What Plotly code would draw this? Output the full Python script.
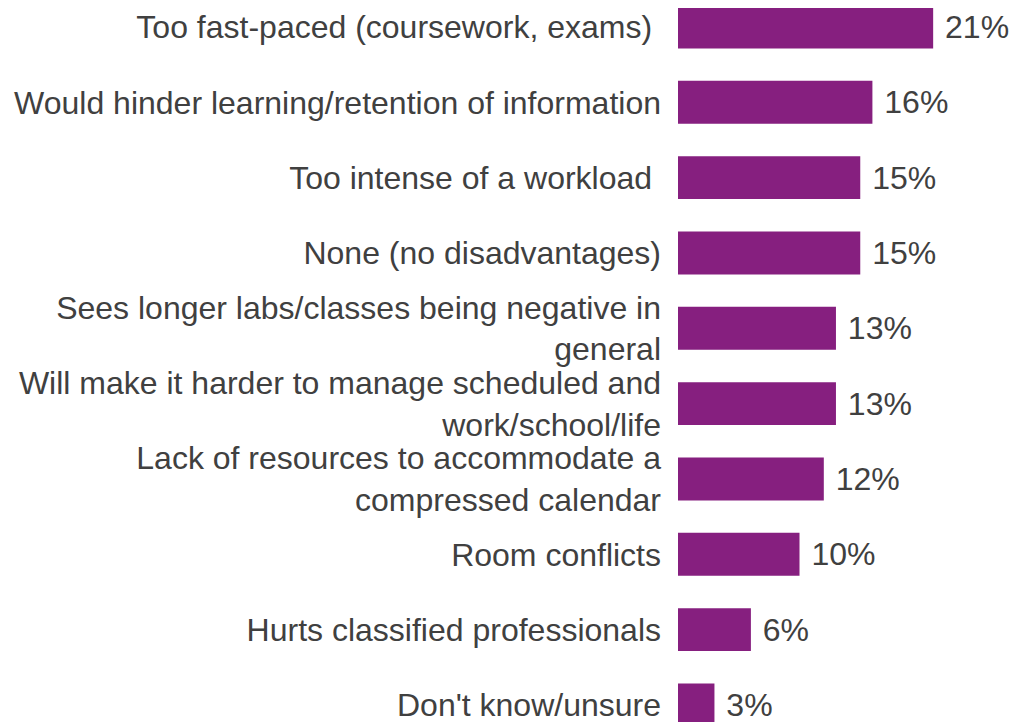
import plotly.graph_objects as go

# Categories, top to bottom
categories = [
    "Too fast-paced (coursework, exams)\u00a0",
    "Would hinder learning/retention of information",
    "Too intense of a workload\u00a0",
    "None (no disadvantages)",
    "Sees longer labs/classes being negative in<br>general",
    "Will make it harder to manage scheduled and<br>work/school/life",
    "Lack of resources to accommodate a<br>compressed calendar",
    "Room conflicts",
    "Hurts classified professionals",
    "Don't know/unsure",
]
percentages = [21, 16, 15, 15, 13, 13, 12, 10, 6, 3]
value_labels = [f"{v}%" for v in percentages]

BAR_COLOR = "#861f7f"
TEXT_COLOR = "#404040"
FONT = "Arial, Liberation Sans, sans-serif"

fig = go.Figure()

fig.add_trace(
    go.Bar(
        x=percentages,
        y=categories,
        orientation="h",
        marker=dict(color=BAR_COLOR, line=dict(width=0)),
        width=0.57,
        text=["\u00a0" + t for t in value_labels],
        textposition="outside",
        constraintext="none",
        cliponaxis=False,
        textfont=dict(size=32, color=TEXT_COLOR, family=FONT),
        hoverinfo="skip",
    )
)

# the page body has an 8px margin, so the figure is sized to fill the rest
fig.update_layout(
    width=1009,
    height=714,
    margin=dict(l=670, r=0, t=0, b=0),
    paper_bgcolor="white",
    plot_bgcolor="white",
    showlegend=False,
    font=dict(family=FONT, size=32, color=TEXT_COLOR),
    xaxis=dict(
        range=[0, 27.9],
        visible=False,
        showgrid=False,
        zeroline=False,
    ),
    yaxis=dict(
        type="category",
        range=[9.226, -0.252],
        showgrid=False,
        zeroline=False,
        showline=False,
        ticks="",
        ticklabelstandoff=16,
        tickfont=dict(size=32, color=TEXT_COLOR, family=FONT),
    ),
)

fig.write_html("out.html")
